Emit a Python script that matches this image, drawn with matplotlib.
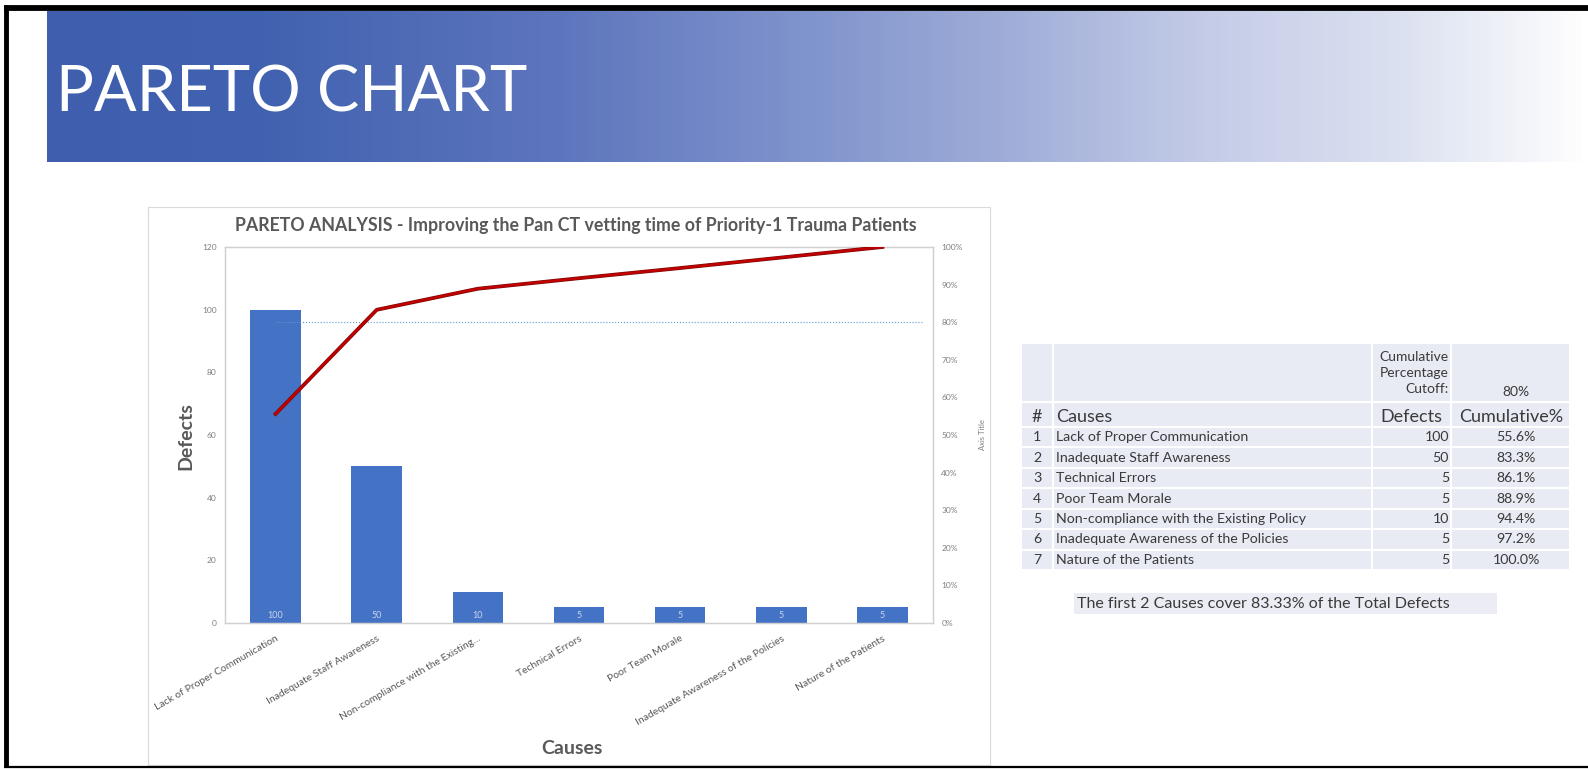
import numpy as np
import matplotlib.pyplot as plt
from matplotlib.patches import Rectangle
from matplotlib.colors import LinearSegmentedColormap
import matplotlib.patheffects as pe

plt.rcParams["font.family"] = ["Lato", "DejaVu Sans"]

W, H = 1588, 769

# ── Data ──────────────────────────────────────────────────────
chart_causes = [
    "Lack of Proper Communication",
    "Inadequate Staff Awareness",
    "Non-compliance with the Existing…",
    "Technical Errors",
    "Poor Team Morale",
    "Inadequate Awareness of the Policies",
    "Nature of the Patients",
]
chart_defects = [100, 50, 10, 5, 5, 5, 5]
chart_cum_pct = [55.6, 83.3, 88.9, 91.7, 94.4, 97.2, 100.0]
cutoff_pct = 80

table_ids = [1, 2, 3, 4, 5, 6, 7]
table_causes = [
    "Lack of Proper Communication",
    "Inadequate Staff Awareness",
    "Technical Errors",
    "Poor Team Morale",
    "Non-compliance with the Existing Policy",
    "Inadequate Awareness of the Policies",
    "Nature of the Patients",
]
table_defects = [100, 50, 5, 5, 10, 5, 5]
table_cum = ["55.6%", "83.3%", "86.1%", "88.9%", "94.4%", "97.2%", "100.0%"]
summary = "The first 2 Causes cover 83.33% of the Total Defects"

GRAY_TXT = "#595959"
TICK_TXT = "#7F7F7F"
BAR = "#4472C4"
LINE = "#C00000"
CELL = "#E8EAF4"
TT = "#3A3A3A"

fig = plt.figure(figsize=(W / 100, H / 100), dpi=100)

# ── Slide background (pixel coordinates) ─────────────────────
bg = fig.add_axes([0, 0, 1, 1])
bg.axis("off")

grad_cmap = LinearSegmentedColormap.from_list("banner", [
    (0.00, "#3F5FAE"), (0.14, "#4162B0"), (0.33, "#5D75BD"),
    (0.49, "#7F93CC"), (0.62, "#9EACD7"), (0.75, "#C3CBE7"),
    (0.88, "#DCE1F1"), (0.95, "#F0F2F8"), (1.00, "#FFFFFF"),
])
grad = np.linspace(0, 1, 512).reshape(1, -1)
bg.imshow(grad, cmap=grad_cmap, extent=(47, W, 162, 11), aspect="auto", zorder=1)
bg.text(56, 93, "PARETO CHART", color="white", fontsize=45.5, fontweight="normal",
        va="center", ha="left", zorder=3)

# black slide border
bg.plot([6, 6], [5, 767], color="black", lw=3.5, zorder=4, solid_capstyle="butt")
bg.plot([4, W], [8, 8], color="black", lw=4.2, zorder=4, solid_capstyle="butt")
bg.plot([4, W], [767, 767], color="black", lw=1.6, zorder=4, solid_capstyle="butt")

# chart frame
bg.add_patch(Rectangle((148, 207), 842, 558, fc="white", ec="#D9D9D9", lw=0.8, zorder=2))
bg.text(576, 225, "PARETO ANALYSIS - Improving the Pan CT vetting time of Priority-1 Trauma Patients",
        fontsize=12.8, fontweight="bold", color=GRAY_TXT, ha="center", va="center", zorder=3)
bg.text(186, 436, "Defects", rotation=90, fontsize=14, fontweight="bold",
        color=GRAY_TXT, ha="center", va="center", zorder=3)
bg.text(572, 748, "Causes", fontsize=14, fontweight="bold",
        color=GRAY_TXT, ha="center", va="center", zorder=3)

# ── Table ─────────────────────────────────────────────────────
col_x = [1021, 1053, 1372, 1451, 1570]
row_y = [343, 402, 427] + [427 + 20.45 * (i + 1) for i in range(7)]
for r in range(len(row_y) - 1):
    for c in range(len(col_x) - 1):
        bg.add_patch(Rectangle((col_x[c] + 1, row_y[r] + 1), col_x[c + 1] - col_x[c] - 2,
                               row_y[r + 1] - row_y[r] - 2, fc=CELL, ec="none", zorder=2))

bg.text(1449, 373, "Cumulative\nPercentage\nCutoff:", fontsize=10, color=TT, ha="right",
        va="center", linespacing=1.42, zorder=3)
bg.text(1516, 392, f"{cutoff_pct}%", fontsize=10, color=TT, ha="center", va="center", zorder=3)
bg.text(1037, 417, "#", fontsize=13, color=TT, ha="center", va="center", zorder=3)
bg.text(1056, 417, "Causes", fontsize=13, color=TT, ha="left", va="center", zorder=3)
bg.text(1411, 417, "Defects", fontsize=13, color=TT, ha="center", va="center", zorder=3)
bg.text(1511, 417, "Cumulative%", fontsize=13, color=TT, ha="center", va="center", zorder=3)
for i in range(len(table_ids)):
    yc = (row_y[i + 2] + row_y[i + 3]) / 2
    bg.text(1037, yc, str(table_ids[i]), fontsize=10.2, color=TT, ha="center", va="center", zorder=3)
    bg.text(1056, yc, table_causes[i], fontsize=10.2, color=TT, ha="left", va="center", zorder=3)
    bg.text(1449, yc, str(table_defects[i]), fontsize=10.2, color=TT, ha="right", va="center", zorder=3)
    bg.text(1516, yc, table_cum[i], fontsize=10.2, color=TT, ha="center", va="center", zorder=3)

bg.add_patch(Rectangle((1074, 593), 423, 21, fc="#ECEDF4", ec="none", zorder=2))
bg.text(1077, 603.5, summary, fontsize=11.5, color=TT, ha="left", va="center", zorder=3)

bg.set_xlim(0, W)
bg.set_ylim(H, 0)

# ── Pareto chart ──────────────────────────────────────────────
ax = fig.add_axes([225 / W, (H - 623) / H, 708 / W, 376 / H])
ax.patch.set_alpha(0)
x = np.arange(len(chart_causes))
ax.bar(x, chart_defects, width=0.5, color=BAR, zorder=2)
for xi, v in zip(x, chart_defects):
    ax.text(xi, 2.3, str(v), ha="center", va="center", fontsize=6.5, color="#C9D5EE", zorder=3)
ax.set_xlim(-0.5, len(chart_causes) - 0.5)
ax.set_ylim(0, 120)
ax.set_yticks(np.arange(0, 121, 20))
ax.set_xticks(x, chart_causes, rotation=30, ha="right", rotation_mode="anchor",
              fontsize=7.5, color=GRAY_TXT)
ax.tick_params(axis="y", length=0, labelsize=6, labelcolor=TICK_TXT, pad=6)
ax.tick_params(axis="x", length=0, pad=8)

ax2 = ax.twinx()
ax2.plot(x, chart_cum_pct, color=LINE, lw=1.8, zorder=4,
         path_effects=[pe.Stroke(linewidth=2.7, foreground="#7A0A0A"), pe.Normal()])
ax2.hlines(cutoff_pct, 0, 6.4, color="#5B9BD5", lw=0.8, linestyles=":", zorder=3)
ax2.set_ylim(0, 100)
ax2.set_yticks(np.arange(0, 101, 10), [f"{t}%" for t in range(0, 101, 10)])
ax2.tick_params(axis="y", length=0, labelsize=6, labelcolor=TICK_TXT, pad=6)
ax2.set_ylabel("Axis Title", fontsize=5.5, color=TICK_TXT, labelpad=12)

for a in (ax, ax2):
    for s in a.spines.values():
        s.set_color("#D0D0D0")
        s.set_linewidth(0.9)

fig.savefig("out.png", dpi=100)
